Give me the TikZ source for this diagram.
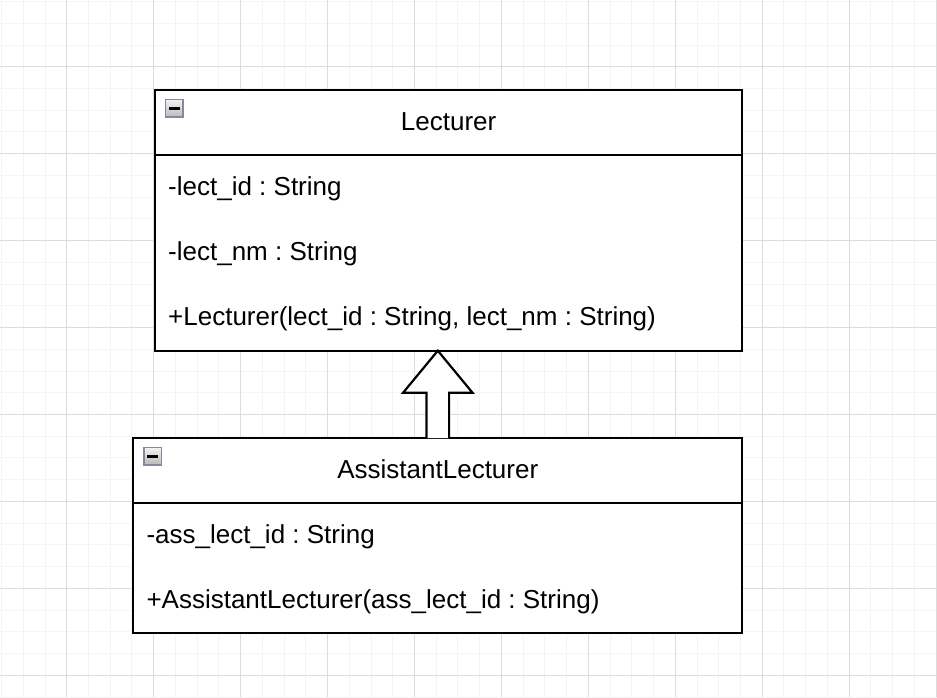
\documentclass[tikz,border=0pt]{standalone}
\usepackage{fontspec}
\setmainfont{Liberation Sans}
\usepackage{tikz}
\usetikzlibrary{calc}

\definecolor{gridminor}{RGB}{244,244,244}
\definecolor{gridmajor}{RGB}{220,220,220}
\definecolor{iconborder}{RGB}{130,138,155}

\tikzset{
    umlbox/.style={draw=black, line width=2.2pt, fill=white, inner sep=0pt,
        outer sep=0pt, anchor=north west},
    umlline/.style={draw=black, line width=2.2pt},
    umltext/.style={inner sep=0pt, anchor=base west,
        font=\fontsize{26}{30}\selectfont},
    umltitle/.style={inner sep=0pt, anchor=base,
        font=\fontsize{26}{30}\selectfont},
}

\begin{document}
\frenchspacing
\begin{tikzpicture}[x=1pt,y=-1pt]
        \useasboundingbox (0,0) rectangle (937,697);
        \fill [white] (0,0) rectangle (937,697);

        % Background grid
        \foreach \k in {0,...,43}
            \draw [gridminor,line width=0.9pt] ({1.5+21.733*\k},0) -- ++(0,697);
        \foreach \k in {0,...,32}
            \draw [gridminor,line width=0.9pt] (0,{1.5+21.733*\k}) -- ++(937,0);
        \foreach \k in {0,...,10}
            \draw [gridmajor,line width=0.9pt] ({66.7+86.93*\k},0) -- ++(0,697);
        \foreach \k in {0,...,7}
            \draw [gridmajor,line width=0.9pt] (0,{66.7+86.93*\k}) -- ++(937,0);

        % Class boxes
        \node (lect) [umlbox, minimum width=587.3pt, minimum height=260.7pt]
            at (155,90) {};
        \node (asst) [umlbox, minimum width=609pt, minimum height=194.7pt]
            at (133.3,438) {};
        \draw [umlline] ($(lect.north west)+(0,65)$) -- ($(lect.north east)+(0,65)$);
        \draw [umlline] ($(asst.north west)+(0,65.3)$) -- ($(asst.north east)+(0,65.3)$);

        % Collapse icons
        \foreach \cls in {lect,asst} {
            \draw [iconborder, line width=1.6pt, top color=gray!10, bottom color=gray!55]
                ($(\cls.north west)+(10.5,9.5)$) rectangle ++(17.5,17.5);
            \draw [black, line width=3pt] ($(\cls.north west)+(14,18.2)$) -- ++(10.5,0);
        }

        % Lecturer
        \node (lectname) [umltitle] at (lect.north |- 0,130) {Lecturer};
        \node (lectid) [umltext] at (168,195) {-lect\_id : String};
        \node (lectnm) [umltext] at (168,260.3) {-lect\_nm : String};
        \node (lectctor) [umltext] at (168,325.7)
            {+Lecturer(lect\_id : String, lect\_nm : String)};

        % AssistantLecturer
        \node (asstname) [umltitle] at (asst.north |- 0,478) {AssistantLecturer};
        \node (asstid) [umltext] at (146.3,543) {-ass\_lect\_id : String};
        \node (asstctor) [umltext] at (146.3,608.3)
            {+AssistantLecturer(ass\_lect\_id : String)};

        % Generalization
        \draw [umlline, fill=white, line join=miter]
            ($(asst.north)+(-11.3,0)$) -- ++(0,-45.3) -- ++(-23.4,0)
            -- (asst.north |- lect.south)
            -- ($(asst.north)+(34.7,-45.3)$) -- ++(-23.4,0) -- ++(0,45.3);
\end{tikzpicture}
\end{document}
